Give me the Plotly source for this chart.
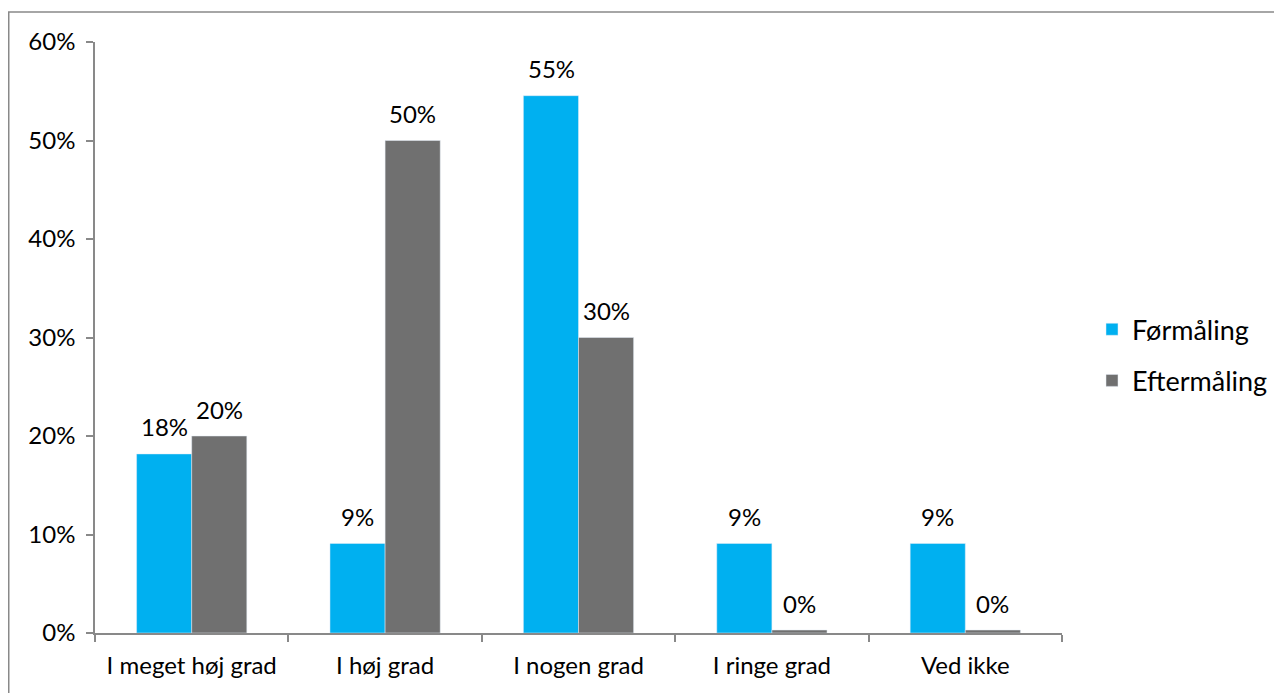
import plotly.graph_objects as go

categories = ["I meget høj grad", "I høj grad", "I nogen grad", "I ringe grad", "Ved ikke"]
formaaling = [18.18, 9.09, 54.55, 9.09, 9.09]
eftermaaling = [20.0, 50.0, 30.0, 0.3, 0.3]
y_ticks = [0, 10, 20, 30, 40, 50, 60]
y_tick_labels = ["0%", "10%", "20%", "30%", "40%", "50%", "60%"]

FONT = "Lato"
AXIS_COLOR = "#898989"
FS = 24

fig = go.Figure()
fig.add_trace(go.Bar(
    name="Førmåling", x=categories, y=formaaling,
    marker_color="#00B0F0", legendgroup="a",
))
fig.add_trace(go.Bar(
    name="Eftermåling", x=categories, y=eftermaaling,
    marker_color="#707070", legendgroup="b",
))

annotations = []
for series, shift in ((formaaling, -27.5), (eftermaaling, 27.5)):
    for c, v in zip(categories, series):
        annotations.append(dict(
            x=c, y=v, xref="x", yref="y", text=f"{v:.0f}%", showarrow=False,
            xshift=shift, yshift=27, yanchor="middle",
            font=dict(family=FONT, size=FS, color="black"),
        ))

W, H = 1274, 685
L, T, R, B = 87, 34, 220, 60
PW = W - L - R
PH = H - T - B

fig.update_layout(
    width=W, height=H,
    margin=dict(l=L, r=R, t=T, b=B, autoexpand=False),
    paper_bgcolor="white", plot_bgcolor="white",
    barmode="group", bargap=0.43, bargroupgap=0,
    font=dict(family=FONT, size=FS, color="black"),
    legend=dict(x=(1084 - L) / PW, y=0.47, xanchor="left", yanchor="middle",
                traceorder="grouped", tracegroupgap=13,
                font=dict(family=FONT, size=27, color="black"),
                itemwidth=30),
    annotations=annotations,
    xaxis=dict(showline=True, linecolor=AXIS_COLOR, linewidth=1.5,
               ticks="outside", tickson="boundaries", ticklen=7, tickcolor=AXIS_COLOR,
               tickwidth=1.5, showgrid=False, ticklabelstandoff=10,
               tickfont=dict(family=FONT, size=FS)),
    yaxis=dict(range=[0, 60], tickvals=y_ticks, ticktext=y_tick_labels,
               showline=True, linecolor=AXIS_COLOR, linewidth=1.5,
               ticks="outside", ticklen=7, tickcolor=AXIS_COLOR, tickwidth=1.5,
               showgrid=False, zeroline=False, ticklabelstandoff=6,
               tickfont=dict(family=FONT, size=FS)),
    shapes=[dict(type="rect", xref="paper", yref="paper",
                 x0=(0.75 - L) / PW, x1=1.4, y0=-0.3, y1=(T + PH - 4) / PH,
                 line=dict(color=AXIS_COLOR, width=1.5), fillcolor="rgba(0,0,0,0)",
                 layer="below")],
)

fig.write_html("out.html")
